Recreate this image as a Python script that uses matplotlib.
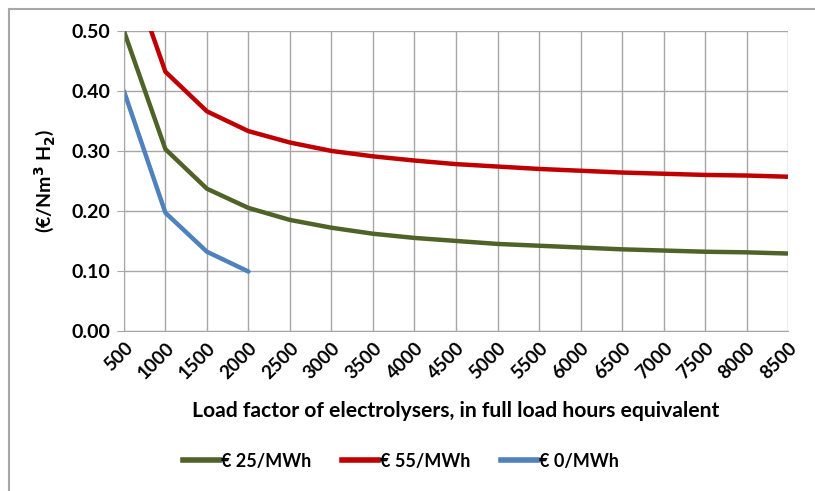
import matplotlib.pyplot as plt
from matplotlib.lines import Line2D

# data
hours = [500, 1000, 1500, 2000, 2500, 3000, 3500, 4000, 4500,
         5000, 5500, 6000, 6500, 7000, 7500, 8000, 8500]
cost_25 = [0.500, 0.303, 0.237, 0.205, 0.185, 0.172, 0.162, 0.155, 0.150,
           0.145, 0.142, 0.139, 0.136, 0.134, 0.132, 0.131, 0.129]
cost_55 = [0.630, 0.432, 0.366, 0.333, 0.314, 0.300, 0.291, 0.284, 0.278,
           0.274, 0.270, 0.267, 0.264, 0.262, 0.260, 0.259, 0.257]
cost_0 = [0.400, 0.197, 0.132, 0.099]
y_ticks = [0.0, 0.1, 0.2, 0.3, 0.4, 0.5]

plt.rcParams['font.family'] = ['Lato', 'DejaVu Sans']
plt.rcParams['font.weight'] = 'bold'

fig = plt.figure(figsize=(8.15, 4.91), dpi=100)
ax = fig.add_axes([0.152, 0.326, 0.815, 0.611])

x = list(range(len(hours)))
ax.plot(x, cost_25, color='#4F6228', lw=3.2, solid_capstyle='round', label='€ 25/MWh')
ax.plot(x, cost_55, color='#C00000', lw=3.2, solid_capstyle='round', label='€ 55/MWh')
ax.plot(x[:len(cost_0)], cost_0, color='#4F81BD', lw=3.2, solid_capstyle='round', label='€ 0/MWh')

ax.set_xlim(0, len(hours) - 1)
ax.set_ylim(0, 0.5)
ax.set_yticks(y_ticks)
ax.set_yticklabels([f'{v:.2f}' for v in y_ticks], fontsize=14, fontweight='bold')
ax.set_xticks(x)
ax.set_xticklabels([str(h) for h in hours], rotation=45, ha='right', va='top',
                   rotation_mode='anchor', fontsize=13.5, fontweight='bold')
ax.tick_params(axis='x', length=0, pad=6)
ax.tick_params(axis='y', length=5, color='#A6A6A6', pad=5)

ax.grid(True, color='#A6A6A6', lw=1)
ax.set_axisbelow(True)
for s in ['top', 'right']:
    ax.spines[s].set_visible(False)
for s in ['left', 'bottom']:
    ax.spines[s].set_color('#A6A6A6')

ax.set_ylabel('(€/Nm$^3$ H$_2$)', fontsize=14, fontweight='bold', labelpad=10)
ax.set_xlabel('Load factor of electrolysers, in full load hours equivalent',
              fontsize=15.2, fontweight='bold', labelpad=14)

handles = [Line2D([], [], color='#4F6228', lw=4),
           Line2D([], [], color='#C00000', lw=4),
           Line2D([], [], color='#4F81BD', lw=4)]
fig.legend(handles, ['€ 25/MWh', '€ 55/MWh', '€ 0/MWh'], loc='center',
           bbox_to_anchor=(0.492, 0.061), ncol=3, frameon=False,
           fontsize=13, handlelength=2.0, handletextpad=0.1, columnspacing=1.7)

# thin frame on the top and left edges like the original screenshot
fig.add_artist(Line2D([0.011, 0.011], [0, 0.982], color='#A6A6A6', lw=1.5))
fig.add_artist(Line2D([0.011, 1.0], [0.982, 0.982], color='#A6A6A6', lw=1.5))

fig.savefig('out.png', dpi=100)
